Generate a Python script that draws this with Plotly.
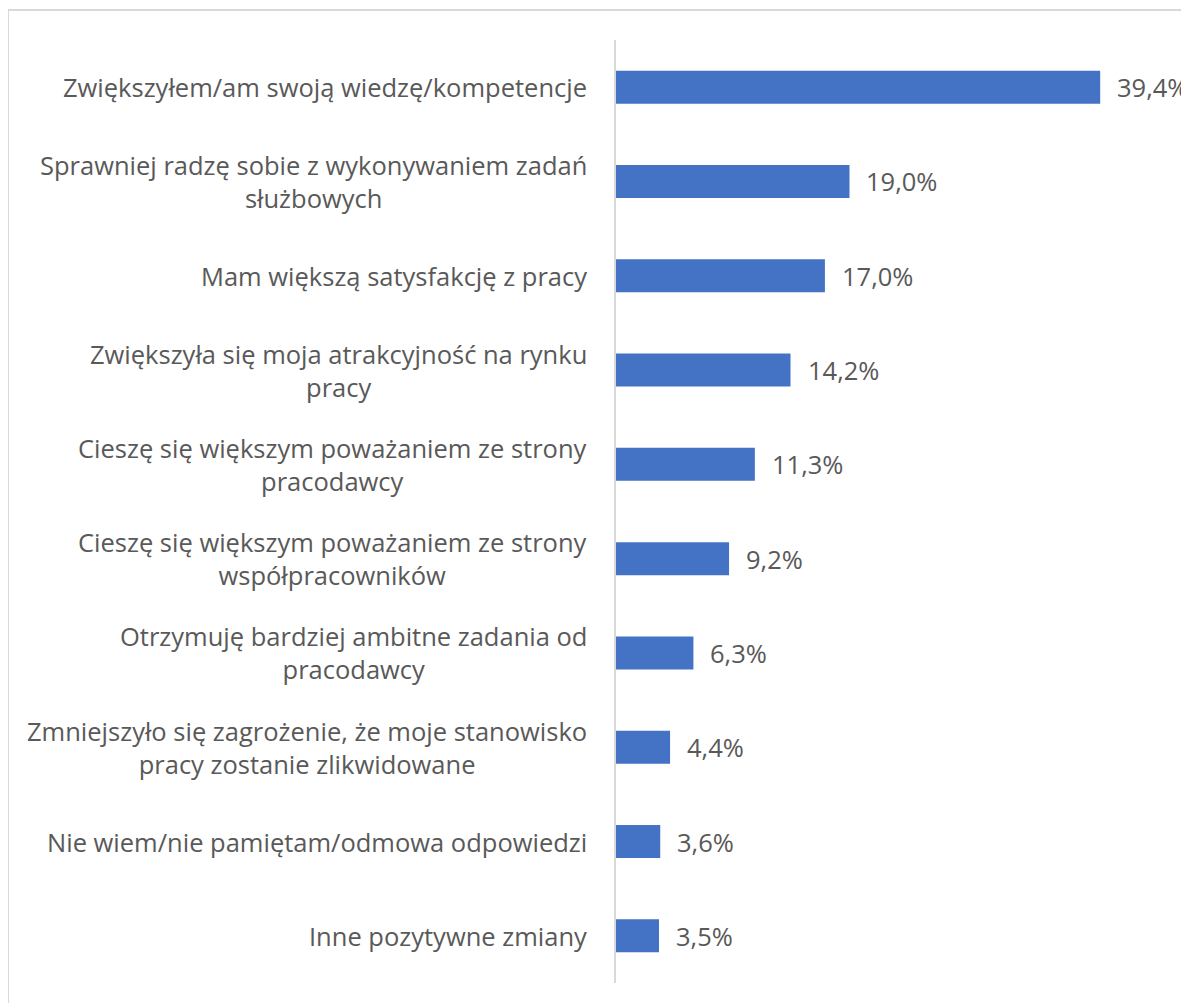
import plotly.graph_objects as go

categories = [
    "Zwiększyłem/am swoją wiedzę/kompetencje",
    "Sprawniej radzę sobie z wykonywaniem zadań<br>służbowych",
    "Mam większą satysfakcję z pracy",
    "Zwiększyła się moja atrakcyjność na rynku<br>pracy",
    "Cieszę się większym poważaniem ze strony<br>pracodawcy",
    "Cieszę się większym poważaniem ze strony<br>współpracowników",
    "Otrzymuję bardziej ambitne zadania od<br>pracodawcy",
    "Zmniejszyło się zagrożenie, że moje stanowisko<br>pracy zostanie zlikwidowane",
    "Nie wiem/nie pamiętam/odmowa odpowiedzi",
    "Inne pozytywne zmiany",
]
values = [39.4, 19.0, 17.0, 14.2, 11.3, 9.2, 6.3, 4.4, 3.6, 3.5]
value_labels = [f"{v:.1f}".replace(".", ",") + "%" for v in values]

FONT = "Open Sans"
TXT = "#595959"

fig = go.Figure()
fig.add_trace(go.Bar(
    x=values, y=list(range(len(categories))), orientation="h",
    marker=dict(color="#4472C4", line=dict(width=0)),
    hoverinfo="skip",
))

annotations = []
for i, (c, lab, v) in enumerate(zip(categories, value_labels, values)):
    annotations.append(dict(
        x=0, xref="paper", y=i, yref="y", text=c, showarrow=False,
        xanchor="right", yanchor="middle", align="center", xshift=-27,
        font=dict(family=FONT, size=25.5, color=TXT),
    ))
    annotations.append(dict(
        x=v, xref="x", y=i, yref="y", text=lab, showarrow=False,
        xanchor="left", yanchor="middle", xshift=15,
        font=dict(family=FONT, size=25.5, color=TXT),
    ))

fig.update_layout(
    width=1181, height=995,
    margin=dict(l=608, r=20, t=32, b=20),
    paper_bgcolor="white", plot_bgcolor="white",
    showlegend=False,
    bargap=0.65,
    annotations=annotations,
    xaxis=dict(range=[0, 45], showgrid=False, zeroline=False,
               showticklabels=False, showline=False, fixedrange=True),
    yaxis=dict(autorange="reversed", showgrid=False, zeroline=False,
               showticklabels=False, showline=True, linecolor="#d9d9d9",
               linewidth=2, ticks=""),
    shapes=[dict(type="rect", xref="paper", yref="paper",
                 x0=(0 - 608) / 553, x1=1.3, y0=-0.2, y1=(975 - 2) / 943,
                 line=dict(color="#d9d9d9", width=2), layer="below")],
)

fig.write_html("out.html")
